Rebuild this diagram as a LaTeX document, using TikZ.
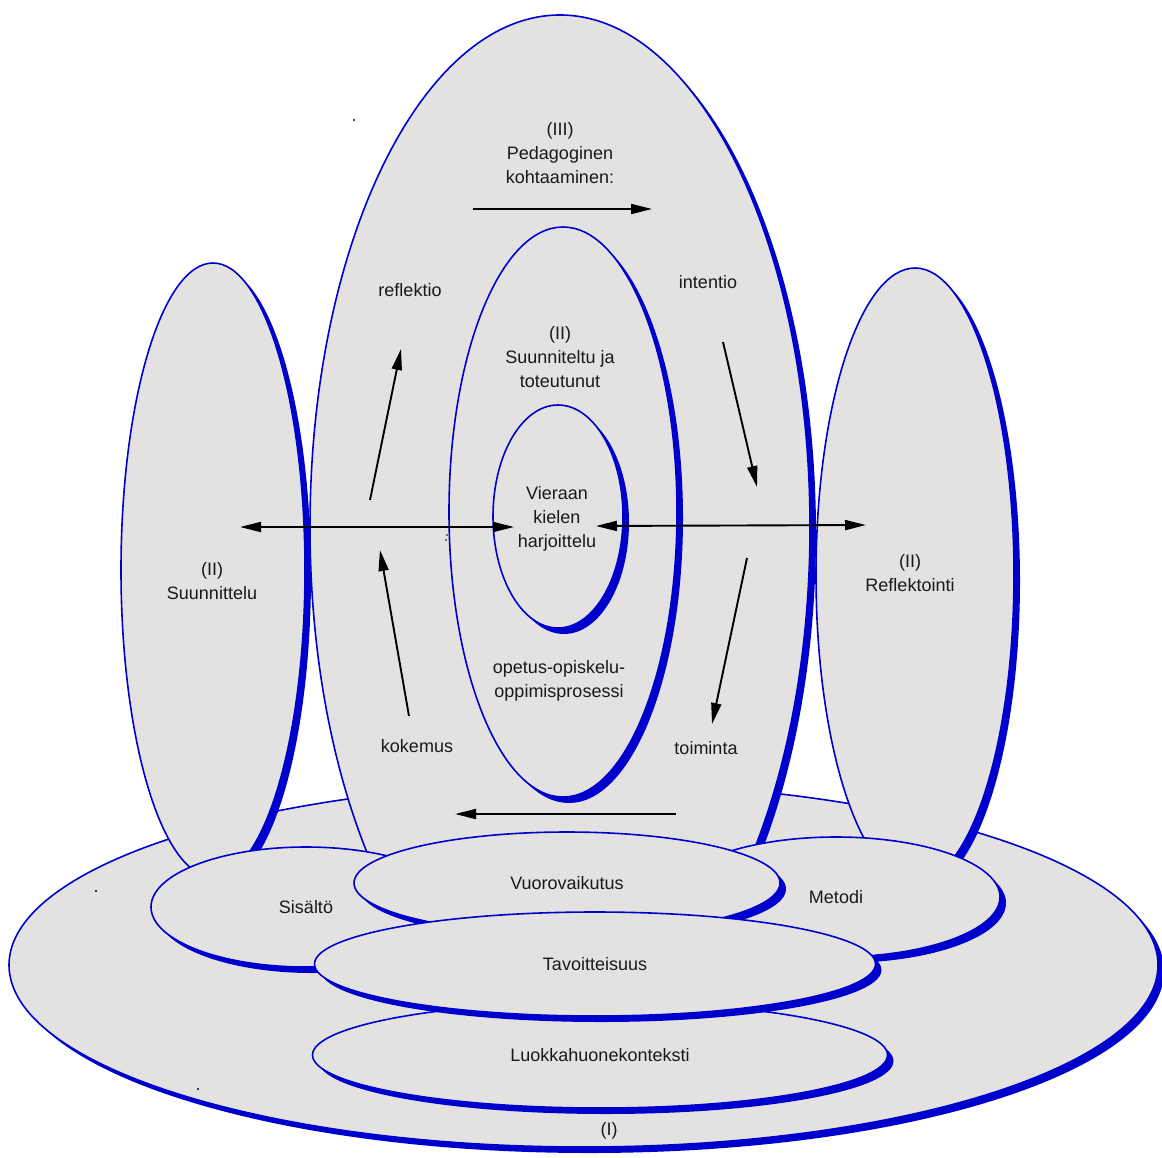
\documentclass[tikz,border=0pt]{standalone}
\usepackage{fontspec}
\setmainfont{Liberation Sans}
\usepackage{tikz}
\usetikzlibrary{shapes.geometric, arrows.meta, shadows}
\definecolor{myblue}{RGB}{0,0,204}
\definecolor{mygray}{RGB}{228,226,225}
\newcommand{\lblsize}{\fontsize{18}{24}\selectfont}
\tikzstyle{oval} = [ellipse, draw=myblue, line width=1.6pt, fill=mygray, inner sep=0pt, align=center, font=\lblsize, text=black!90, drop shadow={shadow xshift=6pt, shadow yshift=-6pt, fill=myblue, opacity=1}]
\tikzstyle{txt} = [align=center, font=\lblsize, text=black!90]
\tikzstyle{arrow} = [line width=1.9pt, -{Triangle[length=21pt, width=10pt]}]
\tikzstyle{twoway} = [line width=1.9pt, {Triangle[length=21pt, width=10pt]}-{Triangle[length=21pt, width=10pt]}]

\begin{document}
\begin{tikzpicture}[x=1pt, y=-1pt]
    \useasboundingbox (0,0) rectangle (1162,1157);
    % (I) base and the upright ovals
    \node (base) [oval, minimum width=1149pt, minimum height=364pt] at (583.5,965) {};
    \node (ped) [oval, minimum width=500pt, minimum height=1024pt] at (560,527) {};
    \node (plan) [oval, minimum width=184pt, minimum height=614pt] at (213,570) {};
    \node (refl) [oval, minimum width=198pt, minimum height=614pt] at (915,575) {};
    \node (proc) [oval, minimum width=228pt, minimum height=570pt] at (563,512) {};
    \node (core) [oval, minimum width=130pt, minimum height=223pt] at (558,516.5) {};

    \node (tcore) [txt] at (557,519) {Vieraan\\kielen\\harjoittelu};
    \node (t3) [txt] at (560,153) {(III)\\Pedagoginen\\kohtaaminen:};
    \node (t2) [txt] at (560,357) {(II)\\Suunniteltu ja\\toteutunut};
    \node (tproc) [txt] at (559,681) {opetus-opiskelu-\\oppimisprosessi};
    \node (tref) [txt] at (410,290) {reflektio};
    \node (tint) [txt] at (708,282) {intentio};
    \node (tkok) [txt] at (417,746) {kokemus};
    \node (ttoi) [txt] at (706,748) {toiminta};
    \node (tplan) [txt] at (212,581) {(II)\\Suunnittelu};
    \node (trefl) [txt] at (910,573) {(II)\\Reflektointi};

    % cycle
    \coordinate (a1) at (473,209); \coordinate (a2) at (652,209);
    \coordinate (b1) at (723,342); \coordinate (b2) at (757,487);
    \coordinate (c1) at (747,558); \coordinate (c2) at (712,724);
    \coordinate (d1) at (676,814); \coordinate (d2) at (455,814);
    \coordinate (e1) at (409,716); \coordinate (e2) at (380,550);
    \coordinate (f1) at (370,500); \coordinate (f2) at (401,349);
    \coordinate (g1) at (240,527); \coordinate (g2) at (514,527);
    \coordinate (h1) at (596,526); \coordinate (h2) at (866,525);
    \draw [arrow] (a1) -- (a2);
    \draw [arrow] (b1) -- (b2);
    \draw [arrow] (c1) -- (c2);
    \draw [arrow] (d1) -- (d2);
    \draw [arrow] (e1) -- (e2);
    \draw [arrow] (f1) -- (f2);
    \draw [twoway] (g1) -- (g2);
    \draw [twoway] (h1) -- (h2);

    % stray dots
    \fill (354,120) circle (1.1pt);
    \fill (96,891) circle (1.1pt);
    \fill (198,1089) circle (1.1pt);
    \fill (447,535) circle (0.9pt);
    \fill (446,540) circle (0.9pt);

    % bottom ovals
    \node (met) [oval, minimum width=328pt, minimum height=120pt] at (836,897) {Metodi};
    \node (sis) [oval, minimum width=310pt, minimum height=120pt] at (306,907) {Sisältö};
    \node (vuo) [oval, minimum width=426pt, minimum height=102pt] at (567,883) {Vuorovaikutus};
    \node (luo) [oval, minimum width=575pt, minimum height=106pt] at (600,1055) {Luokkahuonekonteksti};
    \node (tav) [oval, minimum width=561pt, minimum height=104pt] at (595,964) {Tavoitteisuus};
    \node (t1) [txt] at (609,1131) {(I)};
\end{tikzpicture}
\end{document}
